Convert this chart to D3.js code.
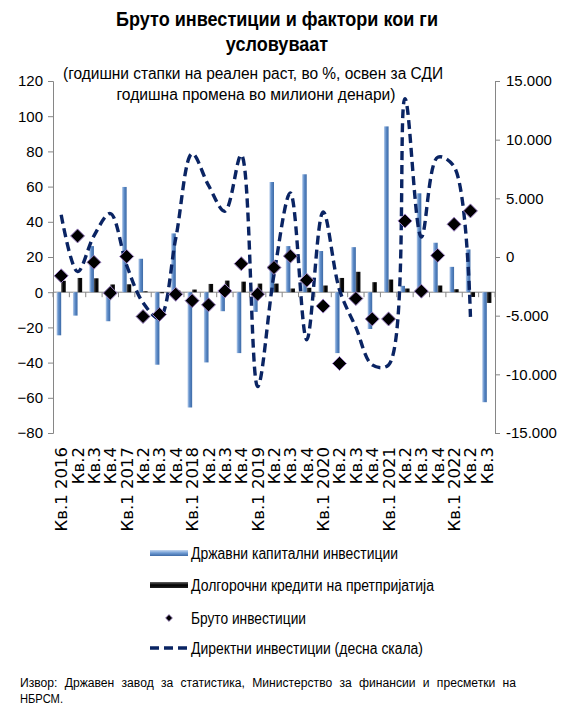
<!DOCTYPE html>
<html>
<head>
<meta charset="utf-8">
<script src="https://cdn.jsdelivr.net/npm/d3@7"></script>
<style>
  body { margin: 0; background: #fff; }
  text { font-family: "Liberation Sans", Arial, sans-serif; fill: #000; }
  .axis path, .axis line { stroke: #868686; }
  .xlab { font-family: "DejaVu Sans", Verdana, sans-serif; }
</style>
</head>
<body>
<div id="chart"></div>
<script>
// quarters 2016 Q1 - 2022 Q3
const categories = [
  "Кв.1 2016", "Кв.2", "Кв.3", "Кв.4",
  "Кв.1 2017", "Кв.2", "Кв.3", "Кв.4",
  "Кв.1 2018", "Кв.2", "Кв.3", "Кв.4",
  "Кв.1 2019", "Кв.2", "Кв.3", "Кв.4",
  "Кв.1 2020", "Кв.2", "Кв.3", "Кв.4",
  "Кв.1 2021", "Кв.2", "Кв.3", "Кв.4",
  "Кв.1 2022", "Кв.2", "Кв.3"
];
// Државни капитални инвестиции (%)
const govInvest = [-24.5, -13.3, 26.2, -16.5, 59.8, 19, -41.2, 33.4, -65.5, -39.9, -10.8, -34.6, -11.2,
  62.6, 26.2, 67, 23.4, -34.6, 25.6, -20.9, 94.2, 3.6, 56.2, 28.1, 14.4, 24.3, -62.5];
// Долгорочни кредити на претпријатија (%)
const corpLoans = [6.5, 8.1, 7.9, 4.4, 4.5, 0.5, -0.6, 1, 1.5, 4.7, 6.6, 6, 4.9,
  4.9, 2.1, 2.5, 3.8, 8.1, 11.6, 5.7, 7.2, 2.1, 2, 3.8, 1.7, -2.7, -6.1];
// Бруто инвестиции (%)
const grossInvest = [9.3, 32, 17, -0.5, 20.3, -13.8, -12.6, -1.2, -4.8, -7.2, 0.7, 16.2, -1.1,
  14, 20.5, 6.8, -7.9, -40.5, -3.6, -15.2, -15.2, 40.5, 0.6, 20.9, 38.6, 46.2, null];
// Директни инвестиции, милиони денари (десна скала)
const fdi = [3600, -1250, 1800, 3700, -700, -3900, -5200, 1600, 8800, 6100, 3900, 8700, -11050,
  -1500, 5450, -7050, 3850, -2800, -6000, -9200, -9200, 13500, 1700, 8500, 7700, -5100, null];

const leftTicks = [-80, -60, -40, -20, 0, 20, 40, 60, 80, 100, 120];
const rightTicks = [-15000, -10000, -5000, 0, 5000, 10000, 15000];

const legendItems = [
  { name: "Државни капитални инвестиции", kind: "blue", len: 207 },
  { name: "Долгорочни кредити на претпријатија", kind: "black", len: 243 },
  { name: "Бруто инвестиции", kind: "diamond", len: 115 },
  { name: "Директни инвестиции (десна скала)", kind: "dash", len: 232 }
];

const W = 568, H = 706;
const plot = { left: 53, right: 495, top: 81, bottom: 433 };

const svg = d3.select("#chart").append("svg")
  .attr("width", W).attr("height", H);

const defs = svg.append("defs");
const gBlue = defs.append("linearGradient").attr("id", "gBlue")
  .attr("x1", "0").attr("x2", "1").attr("y1", "0").attr("y2", "0");
gBlue.append("stop").attr("offset", "0").attr("stop-color", "#b7cdeb");
gBlue.append("stop").attr("offset", "0.45").attr("stop-color", "#5b8ac7");
gBlue.append("stop").attr("offset", "1").attr("stop-color", "#3d6aa6");
const gBlack = defs.append("linearGradient").attr("id", "gBlack")
  .attr("x1", "0").attr("x2", "1").attr("y1", "0").attr("y2", "0");
gBlack.append("stop").attr("offset", "0").attr("stop-color", "#555");
gBlack.append("stop").attr("offset", "0.5").attr("stop-color", "#000");
gBlack.append("stop").attr("offset", "1").attr("stop-color", "#111");
const gBlueH = defs.append("linearGradient").attr("id", "gBlueH")
  .attr("x1", "0").attr("x2", "0").attr("y1", "0").attr("y2", "1");
gBlueH.append("stop").attr("offset", "0").attr("stop-color", "#c6d9f1");
gBlueH.append("stop").attr("offset", "0.5").attr("stop-color", "#6f9bd3");
gBlueH.append("stop").attr("offset", "1").attr("stop-color", "#3d6aa6");
const gBlackH = defs.append("linearGradient").attr("id", "gBlackH")
  .attr("x1", "0").attr("x2", "0").attr("y1", "0").attr("y2", "1");
gBlackH.append("stop").attr("offset", "0").attr("stop-color", "#666");
gBlackH.append("stop").attr("offset", "0.5").attr("stop-color", "#000");
gBlackH.append("stop").attr("offset", "1").attr("stop-color", "#222");

const x = d3.scaleBand().domain(d3.range(categories.length))
  .range([plot.left, plot.right]).padding(0);
const yL = d3.scaleLinear().domain([-80, 120]).range([plot.bottom, plot.top]);
const yR = d3.scaleLinear().domain([-15000, 15000]).range([plot.bottom, plot.top]);
const bw = x.bandwidth();
const barW = 4.6;

const mk = d3.formatLocale({ decimal: ",", thousands: ".", grouping: [3], currency: ["", ""], minus: "-" });
const fmtR = mk.format(",");

// titles (both lines squeezed by the same factor)
const t1 = svg.append("text").attr("x", 277).attr("y", 26).attr("text-anchor", "middle")
  .attr("font-size", 20).attr("font-weight", "bold")
  .text("Бруто инвестиции и фактори кои ги");
const t2 = svg.append("text").attr("x", 277).attr("y", 51).attr("text-anchor", "middle")
  .attr("font-size", 20).attr("font-weight", "bold")
  .text("условуваат");
const squeeze = 322 / t1.node().getComputedTextLength();
t1.attr("textLength", 322).attr("lengthAdjust", "spacingAndGlyphs");
t2.attr("textLength", t2.node().getComputedTextLength() * squeeze).attr("lengthAdjust", "spacingAndGlyphs");

svg.append("text").attr("x", 253).attr("y", 79).attr("text-anchor", "middle")
  .attr("font-size", 16)
  .attr("textLength", 380).attr("lengthAdjust", "spacingAndGlyphs")
  .text("(годишни стапки на реален раст, во %, освен за СДИ");
svg.append("text").attr("x", 256).attr("y", 100).attr("text-anchor", "middle")
  .attr("font-size", 16)
  .attr("textLength", 279).attr("lengthAdjust", "spacingAndGlyphs")
  .text("годишна промена во милиони денари)");

// axes
const axL = svg.append("g").attr("class", "axis")
  .attr("transform", `translate(${plot.left},0)`)
  .call(d3.axisLeft(yL).tickValues(leftTicks).tickSize(5).tickSizeOuter(5).tickPadding(5));
const axR = svg.append("g").attr("class", "axis")
  .attr("transform", `translate(${plot.right},0)`)
  .call(d3.axisRight(yR).tickValues(rightTicks).tickSize(5).tickSizeOuter(5).tickPadding(6).tickFormat(fmtR));
[axL, axR].forEach(a => a.selectAll("text")
  .attr("font-size", 15).attr("font-family", "'Liberation Sans', Arial, sans-serif").attr("fill", "#000"));

// category axis on zero line
const zeroY = yL(0);
const catAxis = svg.append("g").attr("class", "axis");
catAxis.append("line").attr("x1", plot.left).attr("x2", plot.right)
  .attr("y1", zeroY).attr("y2", zeroY);
catAxis.selectAll(".ct").data(d3.range(categories.length + 1)).enter().append("line")
  .attr("x1", i => plot.left + i * bw).attr("x2", i => plot.left + i * bw)
  .attr("y1", zeroY).attr("y2", zeroY + 5);

// category labels
svg.selectAll(".xlab").data(categories).enter().append("text")
  .attr("class", "xlab")
  .attr("font-size", 16.5)
  .attr("text-anchor", "end")
  .attr("transform", (d, i) => `translate(${x(i) + bw / 2 + 6},447) rotate(-90)`)
  .text(d => d);

// bars
const gBars = svg.append("g");
gBars.selectAll(".gov").data(govInvest).enter().append("rect")
  .attr("class", "gov")
  .attr("x", (d, i) => x(i) + bw / 2 - barW)
  .attr("width", barW)
  .attr("y", d => yL(Math.max(0, d)))
  .attr("height", d => Math.abs(yL(d) - yL(0)))
  .attr("fill", "url(#gBlue)");
gBars.selectAll(".loan").data(corpLoans).enter().append("rect")
  .attr("class", "loan")
  .attr("x", (d, i) => x(i) + bw / 2)
  .attr("width", barW)
  .attr("y", d => yL(Math.max(0, d)))
  .attr("height", d => Math.abs(yL(d) - yL(0)))
  .attr("fill", "url(#gBlack)");

// direct investments line
const line = d3.line()
  .defined(d => d != null)
  .x((d, i) => x(i) + bw / 2)
  .y(d => yR(d))
  .curve(d3.curveCatmullRom.alpha(0.5));
svg.append("path").datum(fdi)
  .attr("d", line)
  .attr("fill", "none")
  .attr("stroke", "#0a2463")
  .attr("stroke-width", 3.4)
  .attr("stroke-dasharray", "9,5");

// gross investment diamonds
const diamond = d3.symbol().type(d3.symbolDiamond2).size(125);
svg.selectAll(".gross").data(grossInvest.map((v, i) => ({ v, i })).filter(d => d.v != null))
  .enter().append("path")
  .attr("class", "gross")
  .attr("d", diamond)
  .attr("transform", d => `translate(${x(d.i) + bw / 2},${yL(d.v)})`)
  .attr("fill", "#000")
  .attr("stroke", "#9b7fc4")
  .attr("stroke-width", 1);

// legend
const legY = [553, 585, 618, 648];
const leg = svg.append("g");
legendItems.forEach((it, k) => {
  const cy = legY[k];
  if (it.kind === "blue") {
    leg.append("rect").attr("x", 150).attr("y", cy - 3).attr("width", 38).attr("height", 6)
      .attr("fill", "url(#gBlueH)");
  } else if (it.kind === "black") {
    leg.append("rect").attr("x", 150).attr("y", cy - 3).attr("width", 38).attr("height", 6)
      .attr("fill", "url(#gBlackH)");
  } else if (it.kind === "diamond") {
    leg.append("path").attr("d", d3.symbol().type(d3.symbolDiamond2).size(30))
      .attr("transform", `translate(169,${cy})`)
      .attr("fill", "#000").attr("stroke", "#9b7fc4").attr("stroke-width", 0.8);
  } else {
    leg.append("line").attr("x1", 150).attr("x2", 188).attr("y1", cy).attr("y2", cy)
      .attr("stroke", "#0a2463").attr("stroke-width", 3.4).attr("stroke-dasharray", "9,5");
  }
  leg.append("text").attr("x", 191).attr("y", cy + 5.5)
    .attr("font-size", 16)
    .attr("textLength", it.len).attr("lengthAdjust", "spacingAndGlyphs")
    .text(it.name);
});

// source note
svg.append("text").attr("x", 20).attr("y", 687).attr("font-size", 12.5)
  .attr("textLength", 496).attr("lengthAdjust", "spacingAndGlyphs")
  .attr("word-spacing", 4)
  .text("Извор: Државен завод за статистика, Министерство за финансии и пресметки на");
svg.append("text").attr("x", 20).attr("y", 703).attr("font-size", 12.5)
  .attr("textLength", 43).attr("lengthAdjust", "spacingAndGlyphs")
  .text("НБРСМ.");
</script>
</body>
</html>
